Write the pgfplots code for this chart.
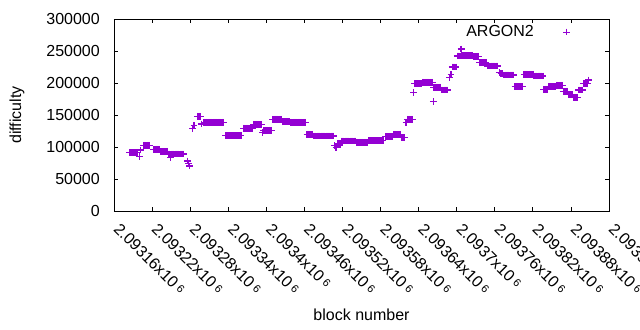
\documentclass[border=0pt]{standalone}
\usepackage{fontspec}
\setmainfont{Liberation Sans}
\usepackage{pgfplots}
\pgfplotsset{compat=1.18}
\definecolor{gpviolet}{RGB}{148,0,211}
\newcommand{\tl}[1]{#1x10\hspace{3bp}\raisebox{2.5bp}{\fontsize{11bp}{12bp}\selectfont 6}}
\pgfplotstableread{
x y
2093185 91000
2093187 91000
2093189 91000
2093191 91000
2093193 91000
2093195 91000
2093197 91000
2093200 84800
2093202 95300
2093206 102700
2093208 102700
2093210 102700
2093212 102700
2093214 102700
2093216 102700
2093222 96400
2093224 96400
2093226 96400
2093228 96400
2093230 96400
2093232 96400
2093234 92700
2093236 92700
2093238 92700
2093240 92700
2093242 92700
2093244 92700
2093246 89000
2093248 89000
2093249 84000
2093250 89000
2093252 89000
2093254 89000
2093256 89000
2093258 89000
2093260 89000
2093262 89000
2093264 89000
2093266 89000
2093268 89000
2093270 89000
2093276 78100
2093277 74500
2093279 70300
2093284 129200
2093286 133300
2093292 148000
2093294 148000
2093296 148000
2093298 136000
2093302 138600
2093304 138600
2093306 138600
2093308 138600
2093310 138600
2093312 138600
2093314 138600
2093316 138600
2093318 138600
2093320 138600
2093322 138600
2093324 138600
2093326 138600
2093328 138600
2093330 138600
2093332 138600
2093336 117500
2093338 117500
2093340 117500
2093342 117500
2093344 117500
2093346 117500
2093348 117500
2093350 117500
2093352 117500
2093354 117500
2093356 117500
2093358 117500
2093360 117500
2093364 129200
2093366 129200
2093368 129200
2093370 129200
2093372 129200
2093374 129200
2093376 129200
2093378 129200
2093380 135500
2093382 135500
2093384 135500
2093386 135500
2093388 135500
2093390 135500
2093392 135500
2093394 123000
2093396 126100
2093398 126100
2093400 126100
2093402 126100
2093404 126100
2093406 126100
2093408 126100
2093410 143300
2093412 143300
2093414 143300
2093416 143300
2093418 143300
2093420 143300
2093422 143300
2093424 143300
2093426 139500
2093428 139500
2093430 139500
2093432 139500
2093434 139500
2093436 139500
2093438 138600
2093440 138600
2093442 138600
2093444 138600
2093446 138600
2093448 138600
2093450 138600
2093452 138600
2093454 138600
2093456 138600
2093458 138600
2093460 138600
2093462 138600
2093464 119800
2093466 119800
2093468 119800
2093470 119800
2093472 119800
2093474 117200
2093476 117200
2093478 117200
2093480 117200
2093482 117200
2093484 117200
2093486 117200
2093488 117200
2093490 117200
2093492 117200
2093494 117200
2093496 117200
2093498 117200
2093500 117200
2093502 117200
2093504 117200
2093506 117200
2093507 102000
2093510 99000
2093513 106000
2093516 103000
2093518 109400
2093520 109400
2093522 109400
2093524 109400
2093526 109400
2093528 109400
2093530 109400
2093532 109400
2093534 109400
2093536 109400
2093538 109400
2093540 109400
2093542 107300
2093544 107300
2093546 107300
2093548 107300
2093550 107300
2093552 107300
2093554 107300
2093556 107300
2093558 107300
2093560 107300
2093562 109800
2093564 109800
2093566 109800
2093568 109800
2093570 109800
2093572 109800
2093574 109800
2093576 109800
2093578 109800
2093580 109800
2093582 109800
2093584 109800
2093588 116100
2093590 116100
2093592 116100
2093594 116100
2093596 116100
2093598 116100
2093600 119800
2093602 119800
2093604 119800
2093606 119800
2093608 119800
2093610 119800
2093612 119800
2093614 114500
2093616 114500
2093618 114500
2093620 138600
2093622 143300
2093624 143300
2093626 143300
2093628 143300
2093630 143300
2093632 184800
2093634 198900
2093636 198900
2093638 198900
2093640 198900
2093642 198900
2093644 198900
2093646 201100
2093648 201100
2093650 201100
2093652 201100
2093654 201100
2093656 201100
2093658 201100
2093660 201100
2093662 201100
2093663 170800
2093664 193300
2093666 193300
2093668 193300
2093670 193300
2093672 193300
2093674 193300
2093676 189100
2093678 189100
2093680 189100
2093682 189100
2093684 189100
2093686 189100
2093689 208300
2093691 213000
2093693 225000
2093695 225000
2093697 225000
2093699 225000
2093701 242200
2093703 242200
2093705 242200
2093707 253100
2093708 242700
2093710 242700
2093712 242700
2093714 242700
2093716 242700
2093718 242700
2093720 242700
2093722 242700
2093724 242700
2093726 241100
2093728 241100
2093730 241100
2093732 241100
2093734 241100
2093736 231700
2093738 231700
2093740 231700
2093742 231700
2093744 231700
2093746 231700
2093748 226600
2093750 226600
2093752 226600
2093754 226600
2093756 226600
2093758 226600
2093760 226600
2093762 226600
2093764 226600
2093767 216100
2093770 215000
2093772 215000
2093774 212500
2093776 212500
2093778 212500
2093780 212500
2093782 212500
2093784 212500
2093786 212500
2093788 212500
2093790 212500
2093792 194200
2093794 194200
2093796 194200
2093798 194200
2093800 194200
2093802 194200
2093804 194200
2093806 213600
2093808 213600
2093810 213600
2093812 213600
2093814 213600
2093816 213600
2093818 213600
2093820 213600
2093822 210900
2093824 210900
2093826 210900
2093828 210900
2093830 210900
2093832 210900
2093834 210900
2093836 210900
2093837 190200
2093839 190200
2093841 190200
2093843 190200
2093845 194200
2093847 194200
2093849 194200
2093851 194200
2093853 194200
2093855 194200
2093857 196400
2093859 196400
2093861 196400
2093863 196400
2093865 196400
2093867 196400
2093868 186400
2093870 186400
2093872 186400
2093874 186400
2093876 181700
2093878 181700
2093880 181700
2093882 181700
2093884 177700
2093886 177700
2093888 177700
2093890 177700
2093892 189100
2093894 189100
2093896 189100
2093898 189100
2093900 199500
2093902 199500
2093904 199500
2093906 199500
2093908 204700
}\argondata
\begin{document}
\fontsize{16bp}{19bp}\selectfont
\begin{tikzpicture}
\clip (-114bp,-119bp) rectangle (526bp,211bp);
\begin{axis}[
  at={(0,0)}, anchor=south west,
  scale only axis,
  width=495bp, height=192bp,
  xmin=2093160, xmax=2093940,
  ymin=0, ymax=300000,
  xtick={2093160,2093220,2093280,2093340,2093400,2093460,2093520,2093580,2093640,2093700,2093760,2093820,2093880,2093940},
  xticklabels={\tl{2.09316},\tl{2.09322},\tl{2.09328},\tl{2.09334},\tl{2.0934},\tl{2.09346},\tl{2.09352},\tl{2.09358},\tl{2.09364},\tl{2.0937},\tl{2.09376},\tl{2.09382},\tl{2.09388},\tl{2.09394}},
  ytick={0,50000,100000,150000,200000,250000,300000},
  yticklabels={0,50000,100000,150000,200000,250000,300000},
  scaled x ticks=false, scaled y ticks=false,
  tick align=inside,
  major tick length=4bp,
  tick style={black, line width=0.8bp},
  axis line style={black, line width=0.8bp},
  xticklabel style={inner sep=0pt, anchor=west, xshift=2.6bp, yshift=-15bp, rotate=-45},
  yticklabel style={inner sep=0pt, anchor=east, xshift=-14bp},
  xlabel={block number},
  ylabel={difficulty},
  xlabel style={at={(axis description cs:0.5,-0.542)}, anchor=center, inner sep=0pt},
  ylabel style={at={(axis description cs:-0.196,0.5)}, anchor=center, rotate=0, inner sep=0pt},
  legend style={at={(axis description cs:0.925,0.932)}, anchor=east, draw=none, fill=none, inner sep=0pt, outer sep=0pt},
  legend plot pos=right,
  legend cell align=right,
  legend image code/.code={\path[draw=none,fill=none] (0bp,-3bp) rectangle (36bp,3bp); \draw[#1, line width=0.9bp] plot coordinates {(31bp,0bp)};},
  clip=false,
]
\addplot[only marks, mark=+, mark size=3.4bp, gpviolet, line width=1.3bp] table[x=x,y=y] {\argondata};
\addlegendentry{ARGON2}
\end{axis}
\end{tikzpicture}
\end{document}
